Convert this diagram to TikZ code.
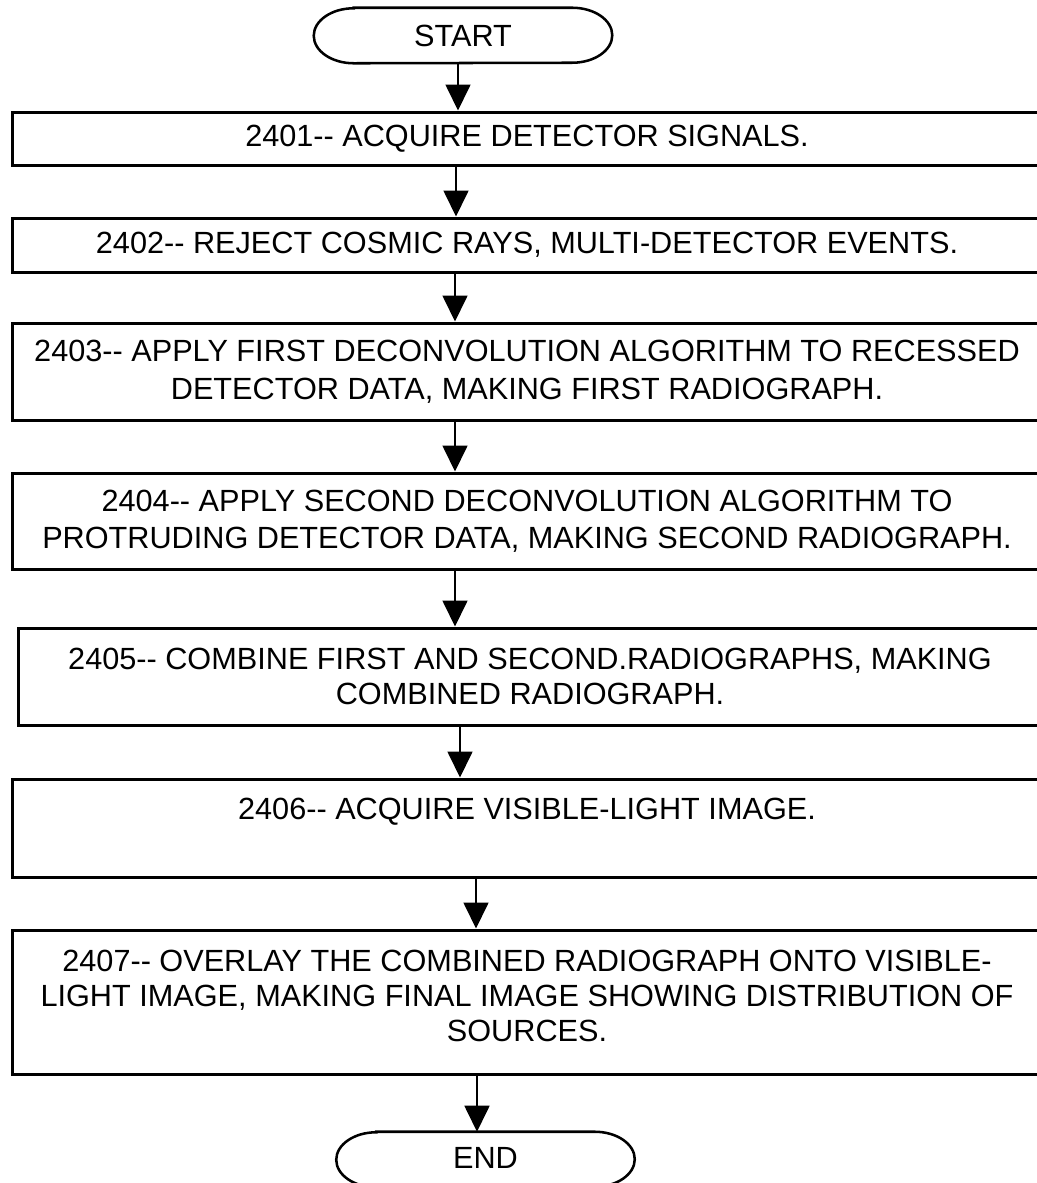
\documentclass[tikz,border=0pt]{standalone}
\usepackage{fontspec}
\setmainfont{Liberation Sans}
\usetikzlibrary{arrows.meta,calc}
\begin{document}
\begin{tikzpicture}[x=0.75pt,y=-0.75pt,
  stepbox/.style={draw=black,line width=2.25pt,rectangle,inner sep=0pt,
    minimum width=772.5pt,align=center,font=\fontsize{23pt}{28pt}\selectfont},
  term/.style={inner sep=0pt,minimum width=223.5pt,minimum height=41.25pt,
    font=\fontsize{23pt}{28pt}\selectfont},
  ovl/.style={draw=black,line width=1.9pt},
  arr/.style={draw=black,line width=1.3pt,-{Triangle[length=19.5pt 0,width=18.75pt 0]}}]
\useasboundingbox (0,0) rectangle (1037,1183);
\clip (0,0) rectangle (1037,1183);
% nodes
\node[term] (s) at (463,35.5) {START};
\node[stepbox,minimum height=39.75pt] (b1) at (527,138.5) {2401-{}- ACQUIRE DETECTOR SIGNALS.};
\node[stepbox,minimum height=40.5pt] (b2) at (527,245) {2402-{}- REJECT COSMIC RAYS, MULTI-DETECTOR EVENTS.};
\node[stepbox,minimum height=72.75pt,font=\fontsize{23pt}{28.5pt}\selectfont] (b3) at (527,371.5) {2403-{}- APPLY FIRST DECONVOLUTION ALGORITHM TO RECESSED\\DETECTOR DATA, MAKING FIRST RADIOGRAPH.};
\node[stepbox,minimum height=72pt,font=\fontsize{23pt}{27.75pt}\selectfont] (b4) at (527,521) {2404-{}- APPLY SECOND DECONVOLUTION ALGORITHM TO\\PROTRUDING DETECTOR DATA, MAKING SECOND RADIOGRAPH.};
\node[stepbox,minimum height=72.75pt,minimum width=768pt,font=\fontsize{23pt}{26.25pt}\selectfont] (b5) at (530,676.5) {2405-{}- COMBINE FIRST AND SECOND.RADIOGRAPHS, MAKING\\COMBINED RADIOGRAPH.};
\node[stepbox,minimum height=73.5pt,font=\fontsize{23pt}{28.5pt}\selectfont] (b6) at (527,828) {2406-{}- ACQUIRE VISIBLE-LIGHT IMAGE.\\\mbox{}};
\node[stepbox,minimum height=108pt,font=\fontsize{23pt}{26.25pt}\selectfont] (b7) at (527,1002) {2407-{}- OVERLAY THE COMBINED RADIOGRAPH ONTO VISIBLE-\\LIGHT IMAGE, MAKING FINAL IMAGE SHOWING DISTRIBUTION OF\\SOURCES.\\[-17pt]\mbox{}};
\node[term] (e) at (485.5,1159.5) {\raisebox{3pt}{END}};
% terminal outlines
\foreach \t in {s,e}{
  \draw[ovl] ([xshift=30pt]\t.north west) -- ([xshift=-30pt]\t.north east)
    arc[start angle=90,end angle=-90,x radius=30pt,y radius=20.625pt]
    -- ([xshift=30pt]\t.south west)
    arc[start angle=270,end angle=90,x radius=30pt,y radius=20.625pt] -- cycle;
}
% arrow x positions
\coordinate (x1) at (458,0);
\coordinate (x2) at (456,0);
\coordinate (x3) at (455,0);
\coordinate (x5) at (460,0);
\coordinate (x6) at (476,0);
\coordinate (x7) at (477,0);
% connectors
\draw[arr] (s.south -| x1) -- (b1.north -| x1);
\draw[arr] (b1.south -| x2) -- (b2.north -| x2);
\draw[arr] (b2.south -| x3) -- (b3.north -| x3);
\draw[arr] (b3.south -| x3) -- (b4.north -| x3);
\draw[arr] (b4.south -| x3) -- (b5.north -| x3);
\draw[arr] (b5.south -| x5) -- (b6.north -| x5);
\draw[arr] (b6.south -| x6) -- (b7.north -| x6);
\draw[arr] (b7.south -| x7) -- (e.north -| x7);
\end{tikzpicture}
\end{document}
